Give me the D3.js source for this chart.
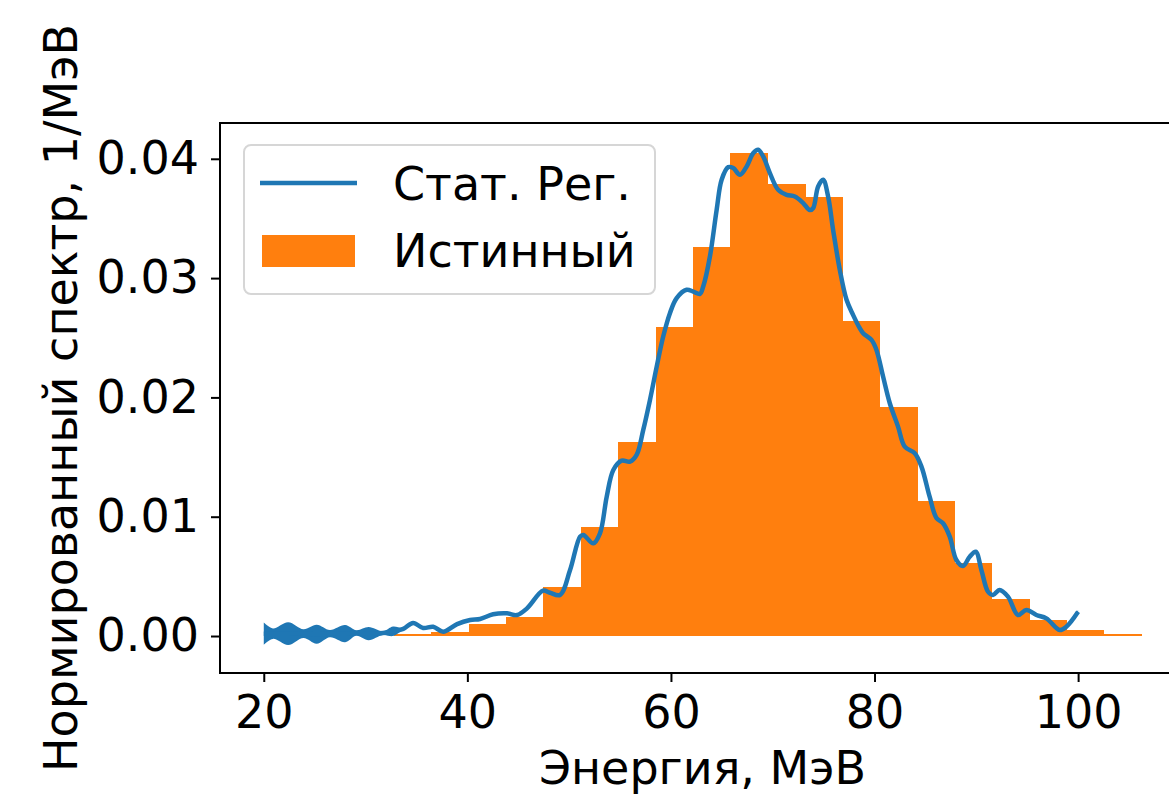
<!DOCTYPE html>
<html>
<head>
<meta charset="utf-8">
<script src="https://cdn.jsdelivr.net/npm/d3@7"></script>
<style>
    body { margin: 0; background: #fff; }
    text { font-family: "DejaVu Sans", sans-serif; fill: #000; }
</style>
</head>
<body>
<div class="chart"></div>
<script>
// Histogram of the true spectrum (bin edges, MeV) and normalised heights (1/MeV)
var binEdges = [32.8, 36.47, 40.14, 43.81, 47.48, 51.15, 54.82, 58.49, 62.16, 65.83, 69.5,
                73.17, 76.84, 80.51, 84.18, 87.85, 91.52, 95.19, 98.86, 102.53, 106.2];
var trueValues = [0.00017, 0.00036, 0.0010, 0.0016, 0.0041, 0.0091, 0.0163, 0.0259, 0.0326, 0.0405,
                  0.0379, 0.0368, 0.0264, 0.0192, 0.0113, 0.0061, 0.0031, 0.00137, 0.00053, 0.00017];

// Statistical regularisation result: energy, value, half-width of the band
var regEnergy = [20.0, 20.9, 22.4, 23.9, 25.2, 26.5, 28.0, 29.1, 30.3, 31.7, 32.7, 33.7,
                 34.67, 35.66, 36.64, 37.62, 38.99, 40.27, 41.25, 42.53, 43.9, 44.88, 45.86,
                 47.43, 48.12, 49.1, 50.09, 51.07, 51.39, 52.37, 53.03, 53.69, 54.34, 55.16,
                 55.98, 56.63, 57.28, 57.94, 58.6, 59.24, 59.9, 60.56, 61.54, 62.19, 62.85,
                 63.17, 63.83, 64.49, 64.98, 65.63, 66.12, 66.78, 67.44, 68.09, 68.57, 69.06,
                 69.72, 70.53, 71.36, 72.17, 72.99, 73.64, 73.97, 74.46, 74.95, 75.44, 75.93,
                 76.59, 77.25, 77.89, 78.55, 78.88, 79.7, 80.19, 80.84, 81.5, 82.31, 82.97,
                 83.95, 84.61, 85.42, 86.08, 86.73, 87.39, 88.04, 88.69, 89.35, 89.94, 90.5,
                 91.15, 91.64, 92.29, 93.11, 94.09, 94.92, 95.9, 96.88, 98.18, 98.84, 100.0];
var regValues = [0.0002, 0.0002, 0.0002, 0.0002, 0.00015, 0.0002, 0.0002, 0.00025, 0.0002, 0.00025, 0.0004, 0.0006,
                 0.0011, 0.00067, 0.00078, 0.00036, 0.001, 0.00134, 0.00143, 0.00182, 0.0019, 0.00176, 0.00232,
                 0.0038, 0.00363, 0.00344, 0.00553, 0.00833, 0.00847, 0.00777, 0.00861, 0.01168, 0.01392, 0.0147,
                 0.01462, 0.01518, 0.01728, 0.01979, 0.02258, 0.0251, 0.02706, 0.02832, 0.02902, 0.02887, 0.02868,
                 0.02929, 0.03181, 0.03572, 0.03824, 0.0393, 0.03922, 0.03866, 0.03936, 0.04048, 0.04076, 0.0402,
                 0.0388, 0.0374, 0.03698, 0.03684, 0.03629, 0.0357, 0.03587, 0.03768, 0.03824, 0.03684, 0.03405,
                 0.03069, 0.02818, 0.02692, 0.0258, 0.02538, 0.02482, 0.02398, 0.02175, 0.01951, 0.01755, 0.01587,
                 0.01532, 0.0142, 0.01166, 0.0099, 0.00945, 0.00833, 0.00637, 0.00587, 0.00665, 0.00707, 0.00553,
                 0.00371, 0.00344, 0.00386, 0.0033, 0.00176, 0.00218, 0.00176, 0.00148, 0.0005, 0.00078, 0.00204];
var regErrors = [0.00093, 0.00044, 0.00096, 0.00037, 0.0008, 0.00031, 0.00072, 0.00023, 0.00055, 0.00016, 0.0004, 0.00008,
                 0, 0, 0, 0, 0, 0, 0, 0, 0, 0, 0,
                 0, 0, 0, 0, 0, 0, 0, 0, 0, 0, 0,
                 0, 0, 0, 0, 0, 0, 0, 0, 0, 0, 0,
                 0, 0, 0, 0, 0, 0, 0, 0, 0, 0, 0,
                 0, 0, 0, 0, 0, 0, 0, 0, 0, 0, 0,
                 0, 0, 0, 0, 0, 0, 0, 0, 0, 0, 0,
                 0, 0, 0, 0, 0, 0, 0, 0, 0, 0, 0,
                 0, 0, 0, 0, 0, 0, 0, 0, 0, 0, 0.00015];

var xTicks = [20, 40, 60, 80, 100];
var yTicks = [0.00, 0.01, 0.02, 0.03, 0.04];

var svgWidth = 1169;
var svgHeight = 795;
var margin = { top: 123, left: 220, bottom: 122 };
var plotRight = 1185;   // the right side of the axes falls outside the picture
var height = svgHeight - margin.top - margin.bottom;
var fontSize = 46;

var svg = d3.select(".chart")
    .append("svg")
    .attr("width", svgWidth)
    .attr("height", svgHeight);

var x = d3.scaleLinear().domain([15.7, 110.5]).range([margin.left, plotRight]);
var y = d3.scaleLinear().domain([-0.0031, 0.0430]).range([margin.top + height, margin.top]);

var blue = "#1f77b4";
var orange = "#ff7f0e";

// histogram
var bins = trueValues.map(function (v, i) {
    return { x0: binEdges[i], x1: binEdges[i + 1], v: v };
});
svg.append("g")
    .attr("shape-rendering", "crispEdges")
    .selectAll("rect")
    .data(bins)
    .enter()
    .append("rect")
    .attr("x", d => x(d.x0))
    .attr("width", d => x(d.x1) - x(d.x0) + 0.6)
    .attr("y", d => y(d.v))
    .attr("height", d => y(0) - y(d.v))
    .attr("fill", orange);

// regularised curve with its band
var reg = regEnergy.map(function (e, i) {
    return { e: e, v: regValues[i], err: regErrors[i] || 0 };
});
var band = d3.area()
    .x(d => x(d.e))
    .y0(d => y(d.v - d.err))
    .y1(d => y(d.v + d.err))
    .curve(d3.curveCatmullRom);
svg.append("path")
    .datum(reg)
    .attr("d", band)
    .attr("fill", blue);

var line = d3.line()
    .x(d => x(d.e))
    .y(d => y(d.v))
    .curve(d3.curveCatmullRom);
svg.append("path")
    .datum(reg)
    .attr("d", line)
    .attr("fill", "none")
    .attr("stroke", blue)
    .attr("stroke-width", 4.5)
    .attr("stroke-linejoin", "round");

// axes frame
svg.append("rect")
    .attr("x", margin.left)
    .attr("y", margin.top)
    .attr("width", plotRight - margin.left)
    .attr("height", height)
    .attr("fill", "none")
    .attr("stroke", "#000")
    .attr("stroke-width", 2);

// ticks
var bottomAxis = d3.axisBottom(x).tickValues(xTicks).tickSize(9).tickPadding(13)
    .tickFormat(d3.format("d"));
var leftAxis = d3.axisLeft(y).tickValues(yTicks).tickSize(9).tickPadding(12)
    .tickFormat(d3.format(".2f"));

var xAxisG = svg.append("g")
    .attr("transform", `translate(0, ${margin.top + height})`)
    .call(bottomAxis);
var yAxisG = svg.append("g")
    .attr("transform", `translate(${margin.left}, 0)`)
    .call(leftAxis);

[xAxisG, yAxisG].forEach(function (g) {
    g.select(".domain").remove();
    g.selectAll(".tick line").attr("stroke", "#000").attr("stroke-width", 2);
    g.selectAll(".tick text")
        .attr("font-family", "DejaVu Sans")
        .attr("font-size", fontSize)
        .attr("fill", "#000");
});

// axis labels
svg.append("text")
    .attr("x", (margin.left + plotRight) / 2)
    .attr("y", 784)
    .attr("text-anchor", "middle")
    .attr("font-size", fontSize)
    .text("Энергия, МэВ");

svg.append("text")
    .attr("transform", `translate(77, ${margin.top + height / 2}) rotate(-90)`)
    .attr("text-anchor", "middle")
    .attr("font-size", fontSize)
    .text("Нормированный спектр, 1/МэВ");

// legend
var legend = svg.append("g");
legend.append("rect")
    .attr("x", 244)
    .attr("y", 145)
    .attr("width", 411)
    .attr("height", 149)
    .attr("rx", 7)
    .attr("fill", "#fff")
    .attr("fill-opacity", 0.8)
    .attr("stroke", "#d6d6d6")
    .attr("stroke-width", 2);
legend.append("line")
    .attr("x1", 260).attr("x2", 357)
    .attr("y1", 183).attr("y2", 183)
    .attr("stroke", blue)
    .attr("stroke-width", 4.5);
legend.append("rect")
    .attr("x", 262).attr("y", 235)
    .attr("width", 93).attr("height", 32)
    .attr("fill", orange);
legend.append("text")
    .attr("x", 393).attr("y", 200)
    .attr("font-size", fontSize)
    .text("Стат. Рег.");
legend.append("text")
    .attr("x", 393).attr("y", 267)
    .attr("font-size", fontSize)
    .text("Истинный");
</script>
</body>
</html>
